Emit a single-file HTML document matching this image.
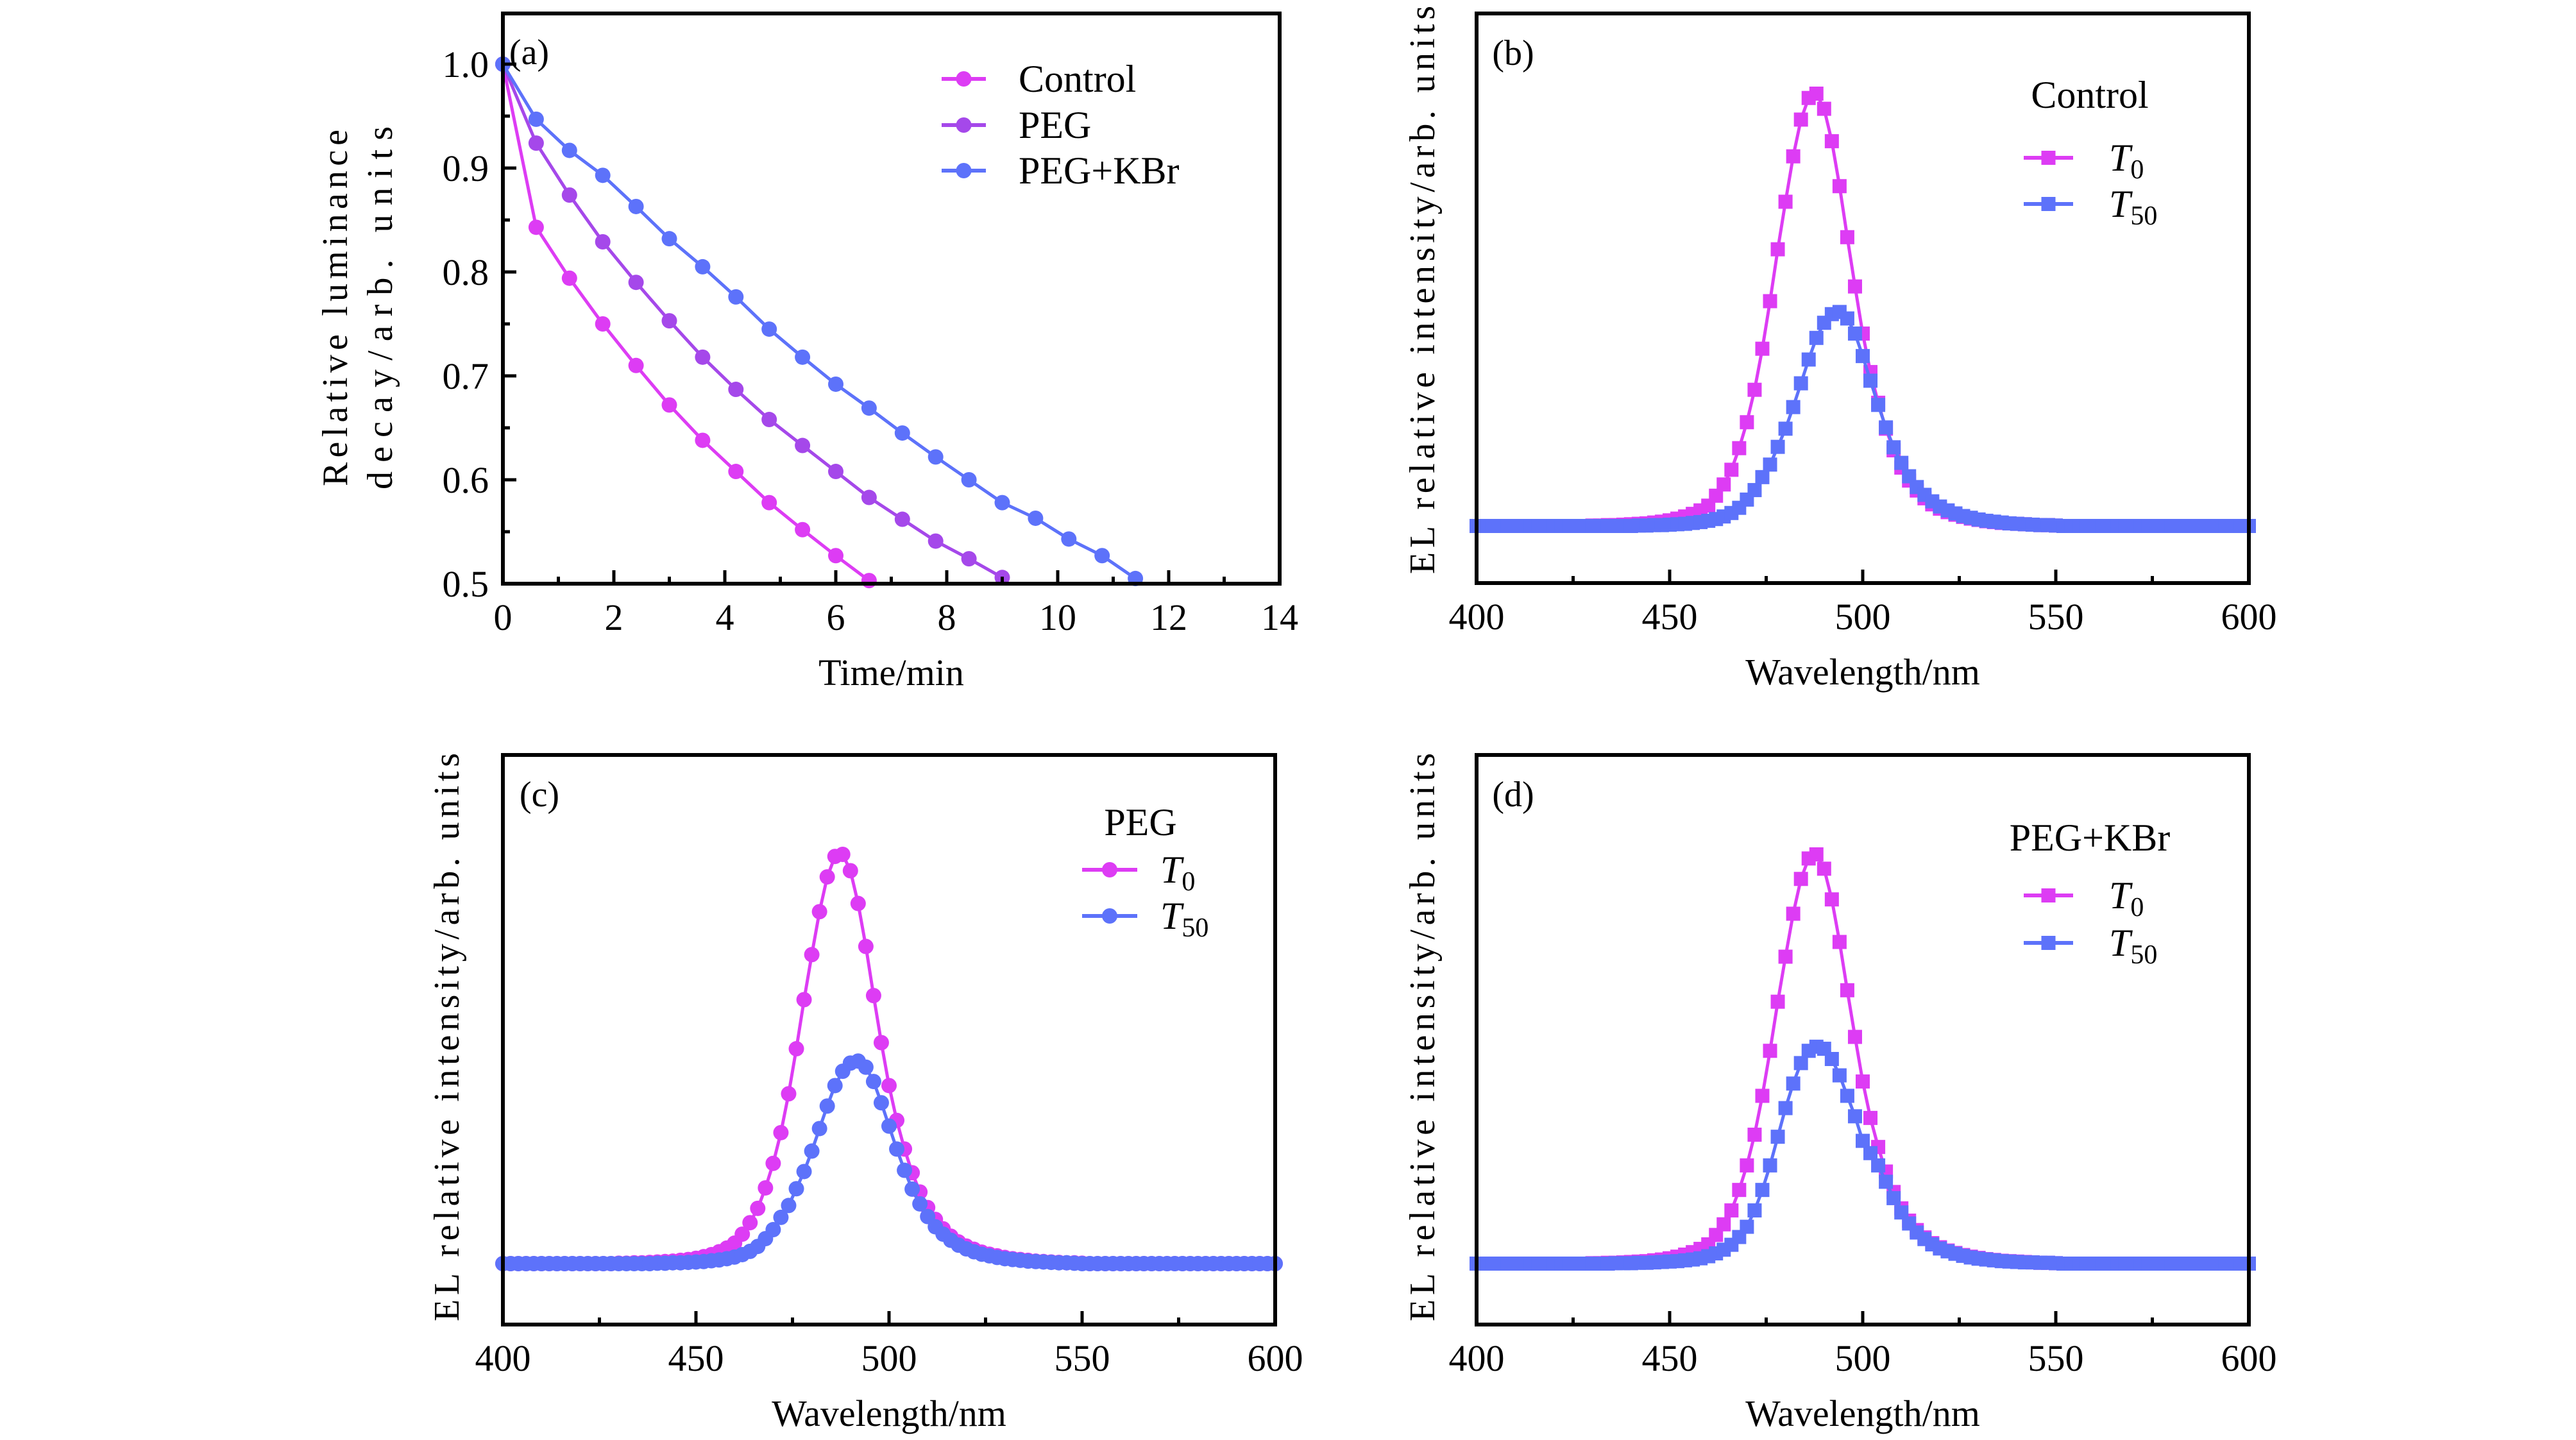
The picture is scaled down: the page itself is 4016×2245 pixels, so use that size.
<!DOCTYPE html>
<html><head><meta charset="utf-8"><style>
html,body{margin:0;padding:0;background:#fff}
svg{display:block}
text{font-family:"Liberation Serif",serif;fill:#000}
</style></head><body>
<svg id="fig" width="4016" height="2245" viewBox="0 0 4016 2245" xmlns="http://www.w3.org/2000/svg"></svg>
<script>
// ---------- Panel (a) data ----------
const timeControl=[0,0.6,1.2,1.8,2.4,3.0,3.6,4.2,4.8,5.4,6.0,6.6];
const lumControl=[1,0.843,0.794,0.750,0.710,0.672,0.638,0.608,0.578,0.552,0.527,0.503];
const timePEG=[0,0.6,1.2,1.8,2.4,3.0,3.6,4.2,4.8,5.4,6.0,6.6,7.2,7.8,8.4,9.0];
const lumPEG=[1,0.924,0.874,0.829,0.790,0.753,0.718,0.687,0.658,0.633,0.608,0.583,0.562,0.541,0.524,0.506];
const timeKBr=[0,0.6,1.2,1.8,2.4,3.0,3.6,4.2,4.8,5.4,6.0,6.6,7.2,7.8,8.4,9.0,9.6,10.2,10.8,11.4];
const lumKBr=[1,0.947,0.917,0.893,0.863,0.832,0.805,0.776,0.745,0.718,0.692,0.669,0.645,0.622,0.600,0.578,0.563,0.543,0.527,0.505];
const aXTicks=[0,2,4,6,8,10,12,14];
const aYTicks=[0.5,0.6,0.7,0.8,0.9,1.0];
const aYTickLabels=["0.5","0.6","0.7","0.8","0.9","1.0"];

// ---------- Spectra data (wavelength 400..600 step 2) ----------
const wavelengths=[400,402,404,406,408,410,412,414,416,418,420,422,424,426,428,430,432,434,436,438,440,442,444,446,448,450,452,454,456,458,460,462,464,466,468,470,472,474,476,478,480,482,484,486,488,490,492,494,496,498,500,502,504,506,508,510,512,514,516,518,520,522,524,526,528,530,532,534,536,538,540,542,544,546,548,550,552,554,556,558,560,562,564,566,568,570,572,574,576,578,580,582,584,586,588,590,592,594,596,598,600];
const specTicks=[400,450,500,550,600];
const bT0=[0,0,0,0,0,0,0,0,0,0,0,0,0,0,0,
0.001,0.001,0.002,0.002,0.003,0.004,0.005,0.006,0.008,0.01,0.013,0.017,0.022,0.028,0.036,0.047,0.07,0.096,0.13,0.18,0.24,0.315,0.41,0.52,0.64,0.75,0.855,0.94,0.99,1.0,0.965,0.89,0.786,0.668,0.554,0.445,0.356,0.285,0.225,0.175,0.135,0.105,0.082,0.064,0.05,0.04,0.032,0.026,0.021,0.017,0.014,0.011,0.009,0.007,0.006,0.005,0.004,0.003,0.002,0.002,0.001,
0,0,0,0,0,0,0,0,0,0,0,0,0,0,0,0,0,0,0,0,0,0,0,0,0];
const bT50=[0,0,0,0,0,0,0,0,0,0,0,0,0,0,0,0,0,0,0,0,0,
0.001,0.001,0.002,0.002,0.003,0.004,0.005,0.007,0.009,0.012,0.016,0.022,0.03,0.042,0.061,0.083,0.113,0.142,0.183,0.225,0.275,0.33,0.385,0.435,0.47,0.49,0.495,0.48,0.445,0.393,0.336,0.28,0.228,0.182,0.146,0.115,0.09,0.072,0.057,0.045,0.036,0.029,0.023,0.019,0.015,0.012,0.01,0.008,0.006,0.005,0.004,0.003,0.002,0.002,0.001,
0,0,0,0,0,0,0,0,0,0,0,0,0,0,0,0,0,0,0,0,0,0,0,0,0];
const cT0=[0,0,0,0,0,0,0,0,0,0,0,0,0,0,0,
0.001,0.001,0.002,0.002,0.003,0.004,0.005,0.006,0.008,0.01,0.013,0.017,0.022,0.029,0.038,0.05,0.072,0.1,0.135,0.185,0.245,0.32,0.415,0.525,0.645,0.755,0.86,0.945,0.995,1.0,0.96,0.88,0.775,0.655,0.54,0.435,0.35,0.28,0.222,0.175,0.137,0.108,0.085,0.067,0.053,0.043,0.035,0.028,0.023,0.019,0.015,0.012,0.01,0.008,0.006,0.005,0.004,0.003,0.002,0.002,0.001,
0,0,0,0,0,0,0,0,0,0,0,0,0,0,0,0,0,0,0,0,0,0,0,0,0];
const cT50=[0,0,0,0,0,0,0,0,0,0,0,0,0,0,0,0,0,0,0,0,
0.001,0.001,0.002,0.002,0.003,0.004,0.005,0.007,0.009,0.012,0.016,0.022,0.03,0.042,0.061,0.083,0.113,0.142,0.183,0.225,0.275,0.33,0.385,0.435,0.47,0.49,0.495,0.48,0.445,0.393,0.336,0.28,0.228,0.182,0.146,0.115,0.09,0.072,0.057,0.045,0.036,0.029,0.023,0.019,0.015,0.012,0.01,0.008,0.006,0.005,0.004,0.003,0.002,0.002,0.001,
0,0,0,0,0,0,0,0,0,0,0,0,0,0,0,0,0,0,0,0,0,0,0,0,0,0];
const dT0=[0,0,0,0,0,0,0,0,0,0,0,0,0,0,0,
0.001,0.001,0.002,0.002,0.003,0.004,0.005,0.006,0.008,0.01,0.013,0.017,0.022,0.028,0.036,0.047,0.07,0.096,0.13,0.18,0.24,0.315,0.41,0.52,0.64,0.75,0.855,0.94,0.99,1.0,0.965,0.89,0.786,0.668,0.554,0.445,0.356,0.285,0.225,0.175,0.135,0.105,0.082,0.064,0.05,0.04,0.032,0.026,0.021,0.017,0.014,0.011,0.009,0.007,0.006,0.005,0.004,0.003,0.002,0.002,0.001,
0,0,0,0,0,0,0,0,0,0,0,0,0,0,0,0,0,0,0,0,0,0,0,0,0];
const dT50=[0,0,0,0,0,0,0,0,0,0,0,0,0,0,0,
0,0,0,0.001,0.001,0.001,0.002,0.002,0.003,0.004,0.005,0.006,0.008,0.01,0.013,0.018,0.025,0.034,0.046,0.065,0.09,0.13,0.18,0.24,0.31,0.38,0.44,0.49,0.52,0.53,0.525,0.5,0.46,0.41,0.36,0.30,0.27,0.24,0.2,0.16,0.125,0.098,0.076,0.06,0.047,0.037,0.03,0.024,0.019,0.015,0.012,0.01,0.008,0.006,0.005,0.004,0.003,0.003,0.002,0.002,0.001,
0,0,0,0,0,0,0,0,0,0,0,0,0,0,0,0,0,0,0,0,0,0,0,0,0];

const NS="http://www.w3.org/2000/svg";
const svg=document.getElementById('fig');
const MAG="#DD3CF4", PUR="#A548EA", BLU="#5D72FA";
function mk(tag,attrs,parent){const e=document.createElementNS(NS,tag);for(const k in attrs)e.setAttribute(k,attrs[k]);(parent||svg).appendChild(e);return e;}
function txt(s,x,y,size,parent,anchor,extra){const t=mk('text',Object.assign({x:x,y:y,'font-size':size,'text-anchor':anchor||'middle'},extra||{}),parent);t.textContent=s;return t;}
function linear(d0,d1,r0,r1){return v=>r0+(v-d0)*(r1-r0)/(d1-d0);}

function marker(g,shape,x,y,color,size){
  if(shape==='sq') return mk('rect',{x:x-size/2,y:y-size/2,width:size,height:size,fill:color},g);
  return mk('circle',{cx:x,cy:y,r:size/2,fill:color},g);
}
function series(g,xs,ys,sx,sy,color,shape,size,name){
  const sg=mk('g',{},g);
  
  
  let d='';
  for(let i=0;i<xs.length;i++){d+=(i?'L':'M')+sx(xs[i]).toFixed(1)+','+sy(ys[i]).toFixed(1);}
  const p=mk('path',{d:d,fill:'none',stroke:color,'stroke-width':5},sg);
  
  
  for(let i=0;i<xs.length;i++){
    const m=marker(sg,shape,sx(xs[i]),sy(ys[i]),color,size);
    
    
  }
}
function frame(g,L,T,R,B){
  const r=mk('rect',{x:L,y:T,width:R-L,height:B-T,fill:'none',stroke:'#000','stroke-width':6},g);
  
  
}
function legend(g,x1,x2,tx,y,color,shape,size,label,sub){
  const lg=mk('g',{},g);
  
  
  mk('line',{x1:x1,y1:y,x2:x2,y2:y,stroke:color,'stroke-width':6},lg);
  marker(lg,shape,(x1+x2)/2,y,color,size);
  const t=txt('',tx,y+20,60,lg,'start');
  if(sub){
    const a=mk('tspan',{'font-style':'italic'},t);a.textContent=label;
    const b=mk('tspan',{'font-size':42,dy:12},t);b.textContent=sub;
  } else t.textContent=label;
}

// ---------- Panel (a) ----------
(function(){
  const g=mk('g',{});
  
  
  const L=784,R=1995,T=21,B=910;
  const sx=linear(0,14,L,R), sy=linear(0.5,1.0,B,100);
  series(g,timeControl,lumControl,sx,sy,MAG,'c',24,'series-control');
  series(g,timePEG,lumPEG,sx,sy,PUR,'c',24,'series-peg');
  series(g,timeKBr,lumKBr,sx,sy,BLU,'c',24,'series-peg-kbr');
  frame(g,L,T,R,B);
  const ax=mk('g',{},g);
  
  
  for(let v=1;v<14;v++){const x=sx(v);mk('line',{x1:x,y1:B,x2:x,y2:B-(v%2?11:21),stroke:'#000','stroke-width':5},ax);}
  aXTicks.forEach(v=>txt(String(v),sx(v),B+72,58,ax));
  const ay=mk('g',{},g);
  
  
  for(let v=0.55;v<1.04;v+=0.05){const y=sy(v);const maj=Math.abs(Math.round(v*10)-v*10)<0.01;mk('line',{x1:L,y1:y,x2:L+(maj?21:11),y2:y,stroke:'#000','stroke-width':5},ay);}
  aYTicks.forEach((v,i)=>txt(aYTickLabels[i],L-22,sy(v)+20,58,ay,'end'));
  const xt=txt('Time/min',(L+R)/2,1068,58,g);
  
  
  const yt=mk('g',{transform:'translate(555,478) rotate(-90)'},g);
  
  
  txt('Relative luminance',0,-14,56,yt,'middle',{textLength:560,'letter-spacing':'4'});
  txt('decay/arb. units',0,56,56,yt,'middle',{textLength:570,'letter-spacing':'4'});
  const pl=txt('(a)',825,100,56,g);
  
  
  legend(g,1468,1537,1588,123,MAG,'c',24,'Control');
  legend(g,1468,1537,1588,195,PUR,'c',24,'PEG');
  legend(g,1468,1537,1588,266,BLU,'c',24,'PEG+KBr');
})();

// ---------- Spectra panels ----------
function specPanel(name,lbl,L,R,T,B,base,peak,t0,t50,shape,title,ytX,ytY,legY){
  const g=mk('g',{});
  
  
  const sx=linear(400,600,L,R), sy=linear(0,1,base,peak);
  const sz=shape==='sq'?22:24;
  series(g,wavelengths,t0,sx,sy,MAG,shape,sz,'series-t0');
  series(g,wavelengths,t50,sx,sy,BLU,shape,sz,'series-t50');
  frame(g,L,T,R,B);
  const ax=mk('g',{},g);
  
  
  for(let v=425;v<600;v+=25){const x=sx(v);mk('line',{x1:x,y1:B,x2:x,y2:B-(v%50?11:21),stroke:'#000','stroke-width':5},ax);}
  specTicks.forEach(v=>txt(String(v),sx(v),B+72,58,ax));
  const xt=txt('Wavelength/nm',(L+R)/2,B+158,58,g);
  
  
  const yt=mk('g',{transform:'translate('+ytX+','+ytY+') rotate(-90)'},g);
  
  
  txt('EL relative intensity/arb. units',0,18,56,yt,'middle',{textLength:890,'letter-spacing':'4'});
  const pl=txt('('+lbl+')',L+57,T+80,56,g);
  
  
  const lt=txt(title,legY[3],legY[0],60,g,'middle');
  
  
  legend(g,legY[4],legY[5],legY[6],legY[1],MAG,shape,sz,'T','0');
  legend(g,legY[4],legY[5],legY[6],legY[2],BLU,shape,sz,'T','50');
}
specPanel('panel-b','b',2302,3506,21,909,820,146,bT0,bT50,'sq','Control',2218,450,[168,246,318,3258,3155,3232,3288]);
specPanel('panel-c','c',784,1988,1177,2065,1970,1332,cT0,cT50,'c','PEG',697,1615,[1302,1356,1428,1778,1687,1773,1809]);
specPanel('panel-d','d',2302,3506,1177,2065,1970,1332,dT0,dT50,'sq','PEG+KBr',2218,1615,[1326,1396,1470,3258,3155,3232,3288]);
</script>
</body></html>
